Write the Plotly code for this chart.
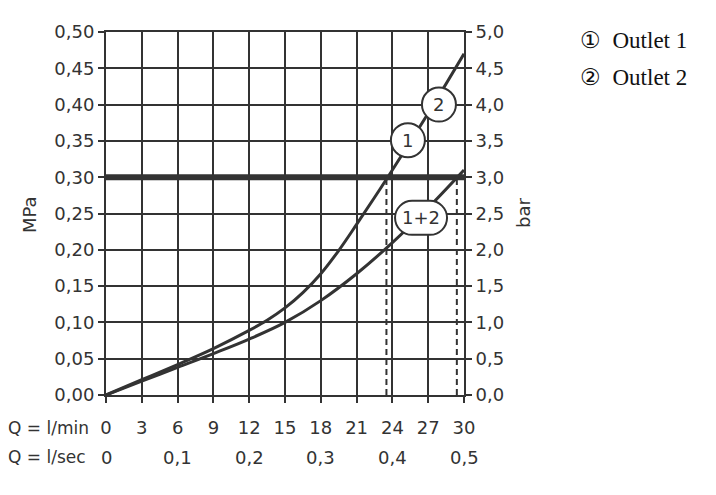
import plotly.graph_objects as go

# ---------------- data ----------------
q_outlet = [0, 3, 6, 9, 12, 13.5, 15, 16.5, 18, 19.5, 21, 22.5, 24, 27, 30]
p_outlet = [0, 0.021, 0.042, 0.064, 0.089, 0.103, 0.120, 0.141, 0.167, 0.199, 0.235, 0.272, 0.310, 0.388, 0.470]
q_both = [0, 3, 6, 9, 12, 15, 18, 21, 24, 27, 30]
p_both = [0, 0.019, 0.038, 0.057, 0.077, 0.100, 0.130, 0.167, 0.210, 0.258, 0.310]
q_ticks = [0, 3, 6, 9, 12, 15, 18, 21, 24, 27, 30]
limit_p = 0.30
cross_q = [23.5, 29.4]
lsec_vals = [0, 0.1, 0.2, 0.3, 0.4, 0.5]
lsec_text = ["0", "0,1", "0,2", "0,3", "0,4", "0,5"]
mpa_ticks = [0, 0.05, 0.10, 0.15, 0.20, 0.25, 0.30, 0.35, 0.40, 0.45, 0.50]
bar_ticks = [0, 0.5, 1.0, 1.5, 2.0, 2.5, 3.0, 3.5, 4.0, 4.5, 5.0]
curve_labels = ["2", "1", "1+2"]
curve_label_q = [27.9, 25.3, 26.4]
curve_label_p = [0.400, 0.351, 0.244]
legend_marks = ["\u2460", "\u2461"]
legend_names = ["Outlet 1", "Outlet 2"]

# ---------------- style ----------------
INK = "#333333"
FONT = "DejaVu Sans"
FS = 18
W, H = 716, 495
L, R, T, B = 106, 464, 32, 395


def px(x):
    return (x - L) / (R - L)


def py(y):
    return (B - y) / (B - T)


fig = go.Figure()

# thick 0.30 MPa line
fig.add_trace(go.Scatter(x=[q_ticks[0], q_ticks[-1]], y=[limit_p, limit_p], mode="lines",
                         line=dict(color=INK, width=6), hoverinfo="skip", showlegend=False))
# dashed drop lines
for q in cross_q:
    fig.add_trace(go.Scatter(x=[q, q], y=[0, limit_p], mode="lines",
                             line=dict(color=INK, width=2, dash="6px,4px"),
                             hoverinfo="skip", showlegend=False))
# curves
fig.add_trace(go.Scatter(x=q_outlet, y=p_outlet, mode="lines",
                         line=dict(color=INK, width=3, shape="spline", smoothing=1),
                         showlegend=False))
fig.add_trace(go.Scatter(x=q_both, y=p_both, mode="lines",
                         line=dict(color=INK, width=3, shape="spline", smoothing=1),
                         showlegend=False))
# dummy trace for right axis
fig.add_trace(go.Scatter(x=[0], y=[0], yaxis="y2", mode="markers", marker=dict(opacity=0),
                         hoverinfo="skip", showlegend=False))

# curve label shapes
for txt, q, p in zip(curve_labels, curve_label_q, curve_label_p):
    if len(txt) == 1:
        fig.add_shape(type="circle", xref="x", yref="y", xsizemode="pixel", ysizemode="pixel",
                      xanchor=q, yanchor=p, x0=-17, x1=17, y0=-17, y1=17,
                      fillcolor="white", line=dict(color=INK, width=2), layer="above")
    else:
        path = ("M -9,-17 L 9,-17 C 18.4,-17 26,-9.4 26,0 C 26,9.4 18.4,17 9,17 "
                "L -9,17 C -18.4,17 -26,9.4 -26,0 C -26,-9.4 -18.4,-17 -9,-17 Z")
        fig.add_shape(type="path", xref="x", yref="y", xsizemode="pixel", ysizemode="pixel",
                      xanchor=q, yanchor=p, path=path,
                      fillcolor="white", line=dict(color=INK, width=2), layer="above")
    fig.add_annotation(x=q, y=p, xref="x", yref="y", text=txt, showarrow=False,
                       xanchor="center", yanchor="middle",
                       font=dict(family=FONT, size=FS, color=INK))

# bottom label rows
fig.add_annotation(x=px(6), y=py(428), xref="paper", yref="paper", xanchor="left", yanchor="middle",
                   text="Q = l/min", showarrow=False, font=dict(family=FONT, size=17, color=INK))
fig.add_annotation(x=px(6), y=py(457), xref="paper", yref="paper", xanchor="left", yanchor="middle",
                   text="Q = l/sec", showarrow=False, font=dict(family=FONT, size=17, color=INK))
for v, t in zip(lsec_vals, lsec_text):
    fig.add_annotation(x=v * 60, y=py(457), xref="x", yref="paper", xanchor="center", yanchor="middle",
                       text=t, showarrow=False, font=dict(family=FONT, size=FS, color=INK))

# axis titles
fig.add_annotation(x=px(29), y=py(215), xref="paper", yref="paper", text="MPa", textangle=-90,
                   xanchor="center", yanchor="middle",
                   showarrow=False, font=dict(family=FONT, size=FS, color=INK))
fig.add_annotation(x=px(523), y=py(213), xref="paper", yref="paper", text="bar", textangle=-90,
                   xanchor="center", yanchor="middle",
                   showarrow=False, font=dict(family=FONT, size=FS, color=INK))

# legend text
for i, (mk, nm) in enumerate(zip(legend_marks, legend_names)):
    fig.add_annotation(x=px(578), y=py(40 + 37 * i), xref="paper", yref="paper", xanchor="left",
                       yanchor="middle",
                       text=f"{mk}&nbsp;&nbsp;{nm}",
                       showarrow=False,
                       font=dict(family="Liberation Serif", size=23, color="#111111"))

axis_common = dict(showline=True, linecolor=INK, linewidth=2, ticks="outside", ticklen=6,
                   tickwidth=2, tickcolor=INK, zeroline=False,
                   tickfont=dict(family=FONT, size=FS, color=INK))

fig.update_layout(
    width=W, height=H,
    margin=dict(l=L, r=W - R, t=T, b=H - B, pad=0),
    paper_bgcolor="white", plot_bgcolor="white",
    separators=",.",
    xaxis=dict(range=[0, 30], tickvals=q_ticks, tickformat="d", showgrid=True,
               gridcolor=INK, gridwidth=2, mirror=True, ticklabelstandoff=9, **axis_common),
    yaxis=dict(range=[0, 0.5], tickvals=mpa_ticks, tickformat=".2f", showgrid=True,
               gridcolor=INK, gridwidth=2, mirror=True, **axis_common),
    yaxis2=dict(range=[0, 5], tickvals=bar_ticks, tickformat=".1f", overlaying="y", side="right",
                showgrid=False, **axis_common),
    showlegend=False,
)

fig.write_html("out.html")
